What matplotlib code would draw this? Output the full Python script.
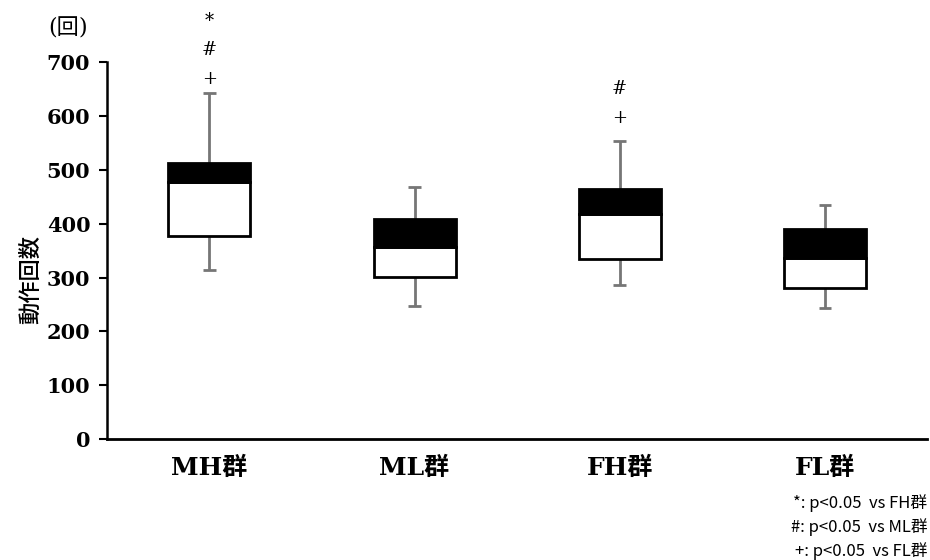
import matplotlib
matplotlib.use("Agg")
import matplotlib.pyplot as plt

groups = ['MH群', 'ML群', 'FH群', 'FL群']
low = [314, 247, 286, 243]
q1 = [377, 301, 335, 280]
median = [477, 357, 418, 336]
q3 = [512, 409, 464, 390]
high = [642, 469, 553, 434]
marks = [['*', '#', '+'], [], ['#', '+'], []]
notes = ['*: p<0.05  vs FH群', '#: p<0.05  vs ML群', '+: p<0.05  vs FL群']

serif = ['DejaVu Serif', 'Noto Sans CJK JP']
sans = ['Noto Sans CJK JP', 'DejaVu Sans']

fig = plt.figure(figsize=(9.3, 5.6), dpi=100)
ax = fig.add_axes([0.115, 0.216, 0.882, 0.673])

x = list(range(1, len(groups) + 1))
w = 0.4
for i, xi in enumerate(x):
    ax.vlines(xi, low[i], q1[i], color='#767676', lw=2, zorder=1)
    ax.vlines(xi, q3[i], high[i], color='#767676', lw=2, zorder=1)
    ax.hlines([low[i], high[i]], xi - 0.03, xi + 0.03, color='#767676', lw=2, zorder=1)

ax.bar(x, [m - a for m, a in zip(median, q1)], bottom=q1, width=w,
       color='white', edgecolor='black', lw=2, zorder=2)
ax.bar(x, [b - m for b, m in zip(q3, median)], bottom=median, width=w,
       color='black', edgecolor='black', lw=2, zorder=2)

# significance marks above the whiskers
first_gap = [10, 0, 17, 0]
for i, ms in enumerate(marks):
    for j, s in enumerate(reversed(ms)):
        ax.annotate(s, (x[i], high[i]), xytext=(0, first_gap[i] + j * 21), textcoords='offset points',
                    ha='center', va='center', fontsize=13, family=serif, annotation_clip=False)

ax.set_xlim(0.5, 4.5)
ax.set_ylim(0, 700)
ax.set_yticks(range(0, 701, 100))
ax.set_xticks(x)
ax.set_xticklabels(groups, fontsize=18, fontweight='bold', family=serif)
for t in ax.get_yticklabels():
    t.set_fontsize(15)
    t.set_fontweight('bold')
    t.set_family(serif)
ax.tick_params(axis='x', length=0, pad=12)
ax.tick_params(axis='y', length=6, width=1.5, direction='out', pad=6)
for s in ['top', 'right']:
    ax.spines[s].set_visible(False)
ax.spines['left'].set_linewidth(1.8)
ax.spines['bottom'].set_linewidth(2)

fig.text(0.033, 0.5, '動作回数', rotation=90, ha='center', va='center',
         fontsize=16, family=sans, fontweight='medium')
fig.text(0.052, 0.95, '(回)', ha='left', va='center', fontsize=16, family=serif)

for k, n in enumerate(notes):
    fig.text(0.997, 0.102 - k * 0.043, n, ha='right', va='center', fontsize=12, family=sans)

fig.savefig('out.png', dpi=100)
